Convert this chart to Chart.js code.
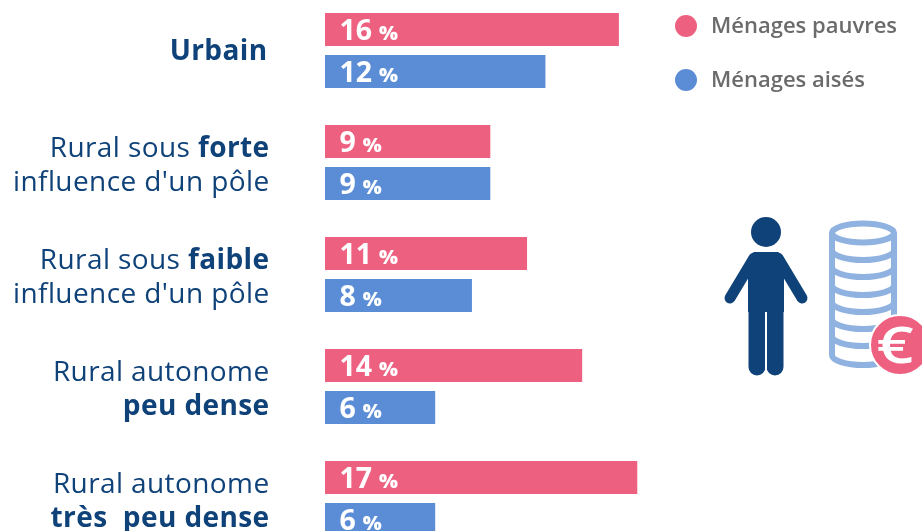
<!DOCTYPE html>
<html lang="fr">
<head>
  <meta charset="UTF-8">
  <title>Ménages pauvres et ménages aisés</title>
  <script src="https://cdn.jsdelivr.net/npm/chart.js"></script>
  <style>
    html, body {
      margin: 0;
      width: 922px;
      height: 531px;
      overflow: hidden;
      background: #fff;
    }
    /* the last row runs past the bottom of the page */
    #territoryChart {
      position: absolute;
      left: 0;
      top: -10px;
    }
    #icon {
      position: absolute;
      left: 0;
      top: 0;
    }
  </style>
</head>
<body>
  <canvas id="territoryChart" width="922" height="570"></canvas>

  <!-- person and stack of coins -->
  <svg id="icon" width="922" height="531" viewBox="0 0 922 531">
    <g fill="#0f4279" stroke="#0f4279" stroke-linecap="round">
      <circle cx="766" cy="232" r="15" stroke="none"/>
      <path d="M754 252h24l6 6v54h-36v-54z" stroke="none"/>
      <path d="M754 258L730 298M778 258L802 298" stroke-width="11" fill="none"/>
      <path d="M757 305V367M775 305V367" stroke-width="17" fill="none"/>
    </g>
    <rect x="765" y="312" width="2" height="60" fill="#fff"/>
    <g fill="none" stroke="#8fb2e0" stroke-width="6">
      <ellipse cx="863" cy="233" rx="31" ry="9.5"/>
      <path d="M832 233V355M894 233V355"/>
      <path d="M832 250A31 10 0 0 0 894 250"/>
      <path d="M832 267A31 10 0 0 0 894 267"/>
      <path d="M832 285A31 10 0 0 0 894 285"/>
      <path d="M832 302A31 10 0 0 0 894 302"/>
      <path d="M832 319A31 10 0 0 0 894 319"/>
      <path d="M832 336A31 10 0 0 0 894 336"/>
      <path d="M832 355A31 10 0 0 0 894 355"/>
    </g>
    <circle cx="900" cy="345" r="30" fill="#ee6080" stroke="#fff" stroke-width="2"/>
    <text transform="translate(895 363) scale(1.3 1)" text-anchor="middle" fill="#fff" font-family="Open Sans" font-weight="600" font-size="50">€</text>
  </svg>

  <script>
    // *word* is set in bold
    const categories = ['Urbain', 'Rural sous forte', 'Rural sous faible', 'Rural autonome peu dense', 'Rural autonome très peu dense'];
    const categoryLines = [
      ['*Urbain*'],
      ['Rural sous *forte*', "influence d'un pôle"],
      ['Rural sous *faible*', "influence d'un pôle"],
      ['Rural autonome', '*peu dense*'],
      ['Rural autonome', '*très  peu dense*']
    ];
    const seriesNames = ['Ménages pauvres', 'Ménages aisés'];
    const poorValues = [16, 9, 11, 14, 17];
    const richValues = [12, 9, 8, 6, 6];

    const PINK = '#ee6080';
    const BLUE = '#5b8dd6';
    const NAVY = '#0f4279';
    const FONT = '"Open Sans", sans-serif';

    // text and legend are painted here since a tick label can't mix weights
    const textPlugin = {
      id: 'textPlugin',
      afterDatasetsDraw(chart) {
        const ctx = chart.ctx;
        ctx.save();
        ctx.textBaseline = 'alphabetic';

        // value inside each bar: big number, small percent sign
        chart.data.datasets.forEach((dataset, i) => {
          chart.getDatasetMeta(i).data.forEach((bar, j) => {
            const num = String(dataset.data[j]);
            const x = bar.base + 14.5;
            const y = bar.y + 10.5;
            ctx.fillStyle = '#fff';
            ctx.textAlign = 'left';
            ctx.font = '700 28.5px ' + FONT;
            ctx.fillText(num, x, y);
            const w = ctx.measureText(num).width;
            ctx.font = '800 20px ' + FONT;
            ctx.fillText('%', x + w + 7, y);
          });
        });

        // category labels, right aligned, with bold runs
        const yScale = chart.scales.y;
        ctx.letterSpacing = '0.4px';
        categoryLines.forEach((lines, i) => {
          const center = yScale.getPixelForTick(i);
          lines.forEach((line, k) => {
            const base = lines.length === 1 ? center + 9 : center - 5.5 + k * 34;
            const right = lines.length === 1 ? 267.5 : 269.5;
            const runs = line.split('*');
            const fontFor = n => (n % 2 ? '700' : '400') + ' 28px ' + FONT;
            let width = 0;
            runs.forEach((run, n) => {
              ctx.font = fontFor(n);
              width += ctx.measureText(run).width;
            });
            let x = right - width;
            ctx.textAlign = 'left';
            ctx.fillStyle = NAVY;
            runs.forEach((run, n) => {
              ctx.font = fontFor(n);
              ctx.fillText(run, x, base);
              x += ctx.measureText(run).width;
            });
          });
        });

        // legend, canvas is shifted 10px up
        ctx.letterSpacing = '0px';
        chart.data.datasets.forEach((dataset, i) => {
          const y = 36 + i * 54;
          ctx.fillStyle = dataset.backgroundColor;
          ctx.beginPath();
          ctx.arc(686, y, 11, 0, Math.PI * 2);
          ctx.fill();
          ctx.fillStyle = '#6b6b6b';
          ctx.font = '600 22px ' + FONT;
          ctx.fillText(dataset.label, 711, y + 7);
        });
        ctx.restore();
      }
    };

    new Chart(document.getElementById('territoryChart'), {
      type: 'bar',
      data: {
        labels: categories,
        datasets: [
          { label: seriesNames[0], data: poorValues, backgroundColor: PINK },
          { label: seriesNames[1], data: richValues, backgroundColor: BLUE }
        ]
      },
      options: {
        indexAxis: 'y',
        responsive: false,
        animation: false,
        events: [],
        categoryPercentage: 0.75,
        barPercentage: 0.786,
        layout: { padding: { left: 325, top: 4.5, bottom: 5.5 } },
        scales: {
          x: { display: false, min: 0, max: 32.5 },
          y: { display: false }
        },
        plugins: {
          legend: { display: false },
          tooltip: { enabled: false }
        }
      },
      plugins: [textPlugin]
    });
  </script>
</body>
</html>
